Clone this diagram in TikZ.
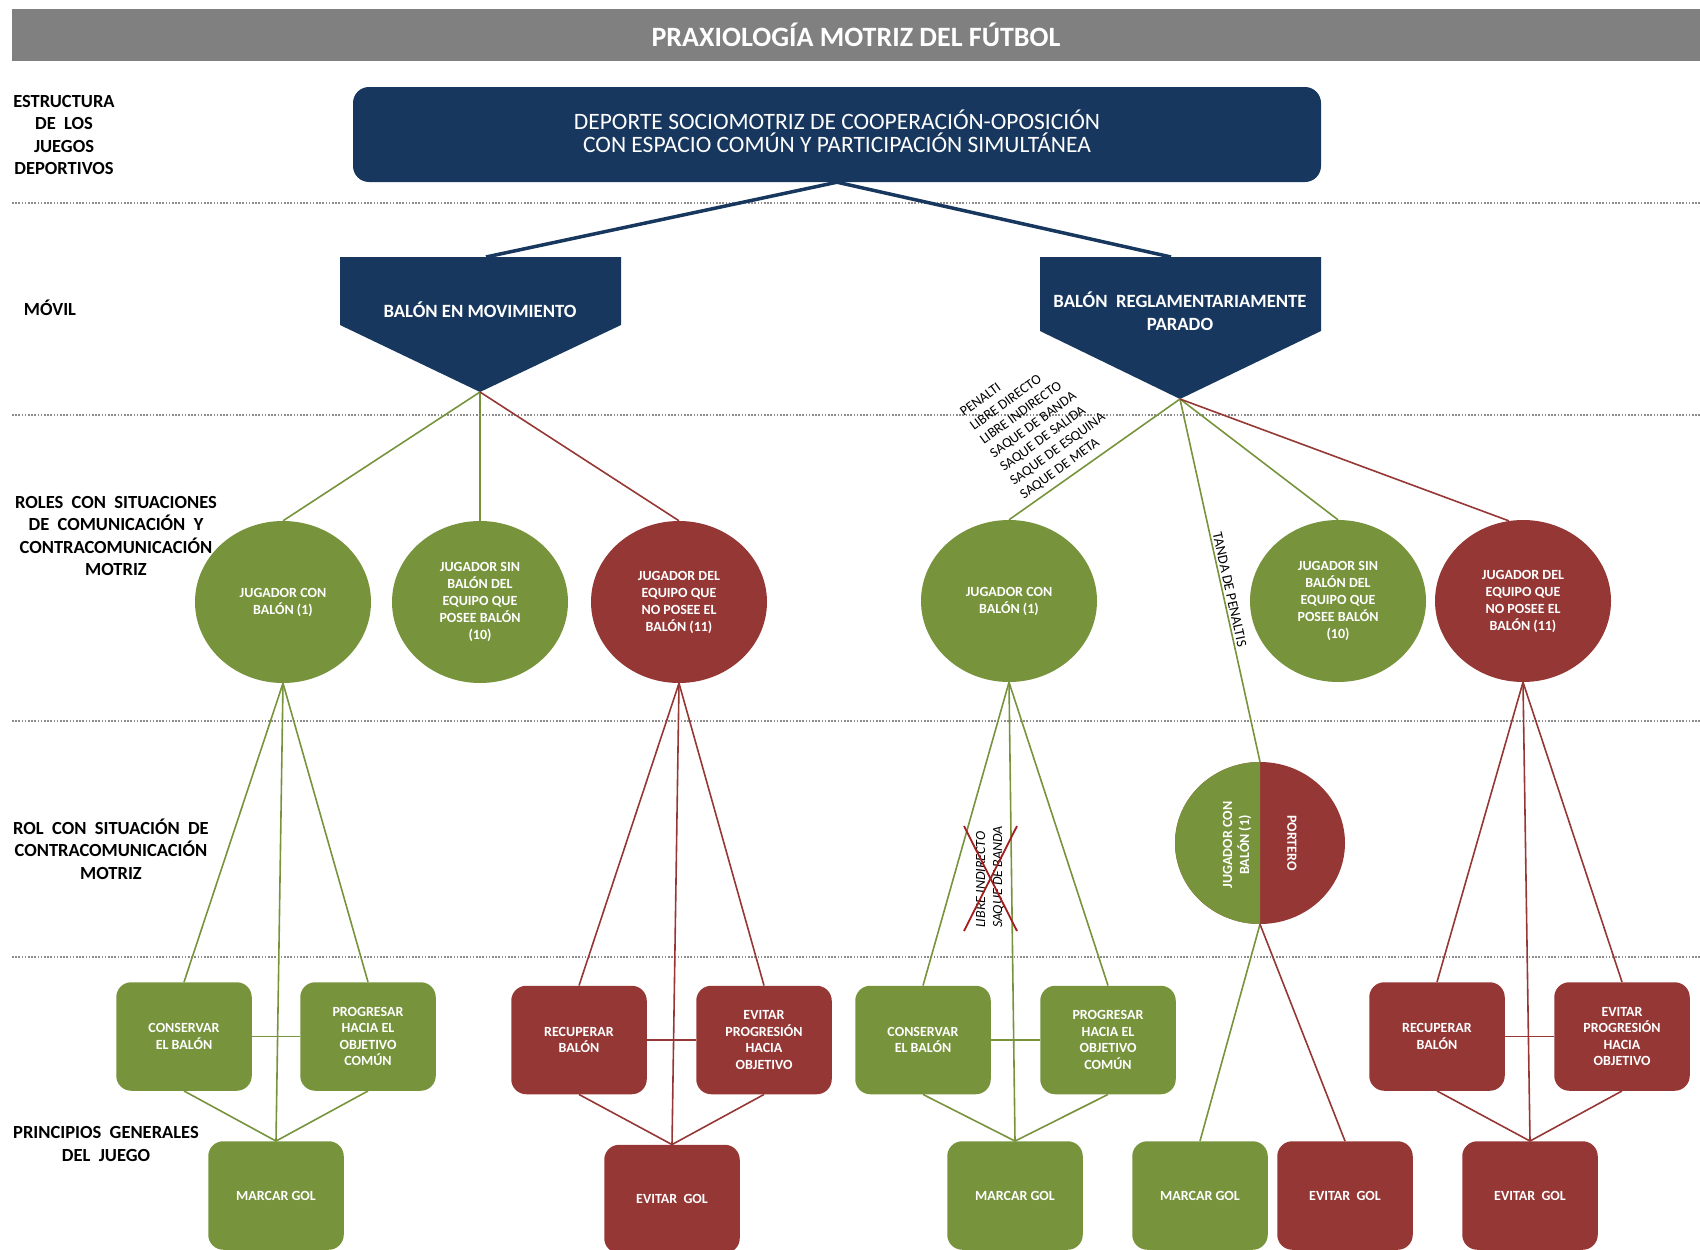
\documentclass[tikz,border=0pt]{standalone}
\usepackage{fontspec}
\setmainfont{Carlito}
\usetikzlibrary{shapes.geometric}
\definecolor{navy}{HTML}{17375E}
\definecolor{ogreen}{HTML}{77933C}
\definecolor{ored}{HTML}{953735}
\definecolor{xred}{HTML}{A01E1E}
\definecolor{bargray}{HTML}{808080}
\definecolor{sepgray}{HTML}{8C8C8C}
\begin{document}
\begin{tikzpicture}[x=1pt,y=-1pt,
  lbl/.style={font=\bfseries\fontsize{18.5}{22.5}\selectfont, align=center, text=black, inner sep=0pt},
  rolecirc/.style={ellipse, minimum width=176pt, minimum height=162pt, inner sep=0pt, align=center, text=white, font=\bfseries\fontsize{14}{17}\selectfont},
  gcirc/.style={rolecirc, fill=ogreen},
  rcirc/.style={rolecirc, fill=ored},
  pbox/.style={rectangle, rounded corners=15pt, minimum width=135.5pt, minimum height=108.5pt, inner sep=0pt, align=center, text=white, font=\bfseries\fontsize{14}{16.6}\selectfont},
  gbox/.style={pbox, fill=ogreen},
  rbox/.style={pbox, fill=ored},
  penttext/.style={align=center, text=white, inner sep=0pt, font=\bfseries\fontsize{18.7}{22.8}\selectfont},
  gline/.style={draw=ogreen, line width=1.6pt},
  rline/.style={draw=ored, line width=1.6pt},
  nline/.style={draw=navy, line width=3.5pt},
  xline/.style={draw=xred, line width=1.8pt},
  sepline/.style={draw=sepgray, line width=1.6pt, dash pattern=on 1.6pt off 1.6pt},
  kicktext/.style={inner sep=0pt, align=left, text=black, font=\fontsize{14}{17}\selectfont},
]
\useasboundingbox (0,0) rectangle (1700,1250);

% title bar
\node[fill=bargray, minimum width=1688pt, minimum height=52pt, inner sep=0pt, text=white,
      font=\bfseries\fontsize{28}{30}\selectfont] (title) at (856,35) {PRAXIOLOGÍA MOTRIZ DEL FÚTBOL};

% separators
\draw[sepline] (12,203) -- (1700,203);
\draw[sepline] (12,415) -- (1700,415);
\draw[sepline] (12,721) -- (1700,721);
\draw[sepline] (12,957) -- (1700,957);

% left labels
\node[lbl] (labA) at (64,135) {ESTRUCTURA\\DE\ \ LOS\\JUEGOS\\DEPORTIVOS};
\node[lbl] (labB) at (50,308) {MÓVIL};
\node[lbl] (labC) at (116,536) {ROLES\ \ CON\ \ SITUACIONES\\DE\ \ COMUNICACIÓN\ \ Y\\CONTRACOMUNICACIÓN\\MOTRIZ};
\node[lbl] (labD) at (111,849) {ROL\ \ CON\ \ SITUACIÓN\ \ DE\\CONTRACOMUNICACIÓN\\MOTRIZ};
\node[lbl] (labE) at (106,1144) {PRINCIPIOS\ \ GENERALES\\DEL\ \ JUEGO};

% top box
\node[fill=navy, rounded corners=16pt, minimum width=968pt, minimum height=95pt, inner sep=0pt] (top) at (837,134.5) {};
\node[text=white, align=center, inner sep=0pt, font=\fontsize{23.5}{22.8}\selectfont] (topText) at (837,131)
      {DEPORTE SOCIOMOTRIZ\ DE COOPERACIÓN-OPOSICIÓN\\CON ESPACIO COMÚN Y PARTICIPACIÓN\ SIMULTÁNEA};

% pentagons
\fill[navy] (340,257) -- (621,257) -- (621,325) -- (480,392) -- (340,325) -- cycle;
\fill[navy] (1040,257) -- (1321,257) -- (1321,331) -- (1180,399) -- (1040,331) -- cycle;
\coordinate (plTop) at (486,257);
\coordinate (plTip) at (480,392);
\coordinate (prTop) at (1171,257);
\coordinate (prTip) at (1180,399);
\node[penttext] (plText) at (480,310) {BALÓN EN MOVIMIENTO};
\node[penttext] (prText) at (1180,311) {BALÓN\ \ REGLAMENTARIAMENTE\\PARADO};

\draw[nline] (top.south) -- (plTop);
\draw[nline] (top.south) -- (prTop);

% role circles
\node[gcirc] (l1) at (283,602) {JUGADOR CON\\BALÓN (1)};
\node[gcirc] (l2) at (480,602) {JUGADOR SIN\\BALÓN DEL\\EQUIPO QUE\\POSEE BALÓN\\(10)};
\node[rcirc] (l3) at (679,602) {JUGADOR DEL\\EQUIPO QUE\\NO POSEE EL\\BALÓN (11)};
\node[gcirc] (r1) at (1009,601) {JUGADOR CON\\BALÓN (1)};
\node[gcirc] (r2) at (1338,601) {JUGADOR SIN\\BALÓN DEL\\EQUIPO QUE\\POSEE BALÓN\\(10)};
\node[rcirc] (r3) at (1523,601) {JUGADOR DEL\\EQUIPO QUE\\NO POSEE EL\\BALÓN (11)};

% split circle
\node[ellipse, minimum width=170pt, minimum height=162pt, inner sep=0pt] (sc) at (1260,843) {};
\fill[ored] (sc.center) ellipse [x radius=85pt, y radius=81pt];
\begin{scope}
  \clip (1170,755) rectangle (1260,935);
  \fill[ogreen] (sc.center) ellipse [x radius=85pt, y radius=81pt];
\end{scope}
\node[rotate=90, align=center, text=white, inner sep=0pt, font=\bfseries\fontsize{14}{17}\selectfont] (scL) at (1237,845) {JUGADOR CON\\BALÓN (1)};
\node[rotate=-90, align=center, text=white, inner sep=0pt, font=\bfseries\fontsize{14}{17}\selectfont] (scR) at (1292,843) {PORTERO};

% boxes
\node[gbox] (lCons) at (184,1036.5) {CONSERVAR\\EL BALÓN};
\node[gbox] (lProg) at (368,1036.5) {PROGRESAR\\HACIA EL\\OBJETIVO\\COMÚN};
\node[gbox] (lGol) at (276,1195.5) {MARCAR GOL};
\node[rbox] (lRec) at (579,1040) {RECUPERAR\\BALÓN};
\node[rbox] (lEvp) at (764,1040) {EVITAR\\PROGRESIÓN\\HACIA\\OBJETIVO};
\node[rbox] (lEvg) at (672,1199) {EVITAR\ \ GOL};
\node[gbox] (rCons) at (923,1040) {CONSERVAR\\EL BALÓN};
\node[gbox] (rProg) at (1108,1040) {PROGRESAR\\HACIA EL\\OBJETIVO\\COMÚN};
\node[gbox] (rGol) at (1015,1195.5) {MARCAR GOL};
\node[gbox] (sGol) at (1200,1195.5) {MARCAR GOL};
\node[rbox] (sEvg) at (1345,1195.5) {EVITAR\ \ GOL};
\node[rbox] (rRec) at (1437,1036.5) {RECUPERAR\\BALÓN};
\node[rbox] (rEvp) at (1622,1036.5) {EVITAR\\PROGRESIÓN\\HACIA\\OBJETIVO};
\node[rbox] (rEvg) at (1530,1195.5) {EVITAR\ \ GOL};

% connectors from pentagons
\draw[gline] (plTip) -- (l1.north);
\draw[gline] (plTip) -- (l2.north);
\draw[rline] (plTip) -- (l3.north);
\draw[gline] (prTip) -- (r1.north);
\draw[gline] (prTip) -- node[sloped, above, pos=0.53, inner sep=2pt, text=black, font=\fontsize{14.3}{15}\selectfont] (tanda) {TANDA DE PENALTIS} (sc.north);
\draw[gline] (prTip) -- (r2.north);
\draw[rline] (prTip) -- (r3.100);

% left green group
\draw[gline] (l1.south) -- (lCons.north);
\draw[gline] (l1.south) -- (lGol.north);
\draw[gline] (l1.south) -- (lProg.north);
\draw[gline] (lCons.south) -- (lGol.north);
\draw[gline] (lProg.south) -- (lGol.north);
\draw[gline] (lCons.east) -- (lProg.west);

% left red group
\draw[rline] (l3.south) -- (lRec.north);
\draw[rline] (l3.south) -- (lEvg.north);
\draw[rline] (l3.south) -- (lEvp.north);
\draw[rline] (lRec.south) -- (lEvg.north);
\draw[rline] (lEvp.south) -- (lEvg.north);
\draw[rline] (lRec.east) -- (lEvp.west);

% right green group
\draw[gline] (r1.south) -- (rCons.north);
\draw[gline] (r1.south) -- (rGol.north);
\draw[gline] (r1.south) -- (rProg.north);
\draw[gline] (rCons.south) -- (rGol.north);
\draw[gline] (rProg.south) -- (rGol.north);
\draw[gline] (rCons.east) -- (rProg.west);

% split circle
\draw[gline] (sc.south) -- (sGol.north);
\draw[rline] (sc.south) -- (sEvg.north);

% right red group
\draw[rline] (r3.south) -- (rRec.north);
\draw[rline] (r3.south) -- (rEvg.north);
\draw[rline] (r3.south) -- (rEvp.north);
\draw[rline] (rRec.south) -- (rEvg.north);
\draw[rline] (rEvp.south) -- (rEvg.north);
\draw[rline] (rRec.east) -- (rEvp.west);

% free kick list
\node[kicktext, rotate=36] (kicks) at (1038,422) {PENALTI\\LIBRE DIRECTO\\LIBRE INDIRECTO\\SAQUE DE BANDA\\SAQUE DE SALIDA\\SAQUE DE ESQUINA\\SAQUE DE META};

% crossed list
\node[kicktext, rotate=90, font=\itshape\fontsize{14}{17}\selectfont] (crossed) at (990,877) {LIBRE INDIRECTO\\SAQUE DE BANDA};
\coordinate (xa) at (964,826);
\coordinate (xb) at (1017,931);
\coordinate (xc) at (1017,826);
\coordinate (xd) at (964,931);
\draw[xline] (xa) -- (xb);
\draw[xline] (xc) -- (xd);
\end{tikzpicture}
\end{document}
